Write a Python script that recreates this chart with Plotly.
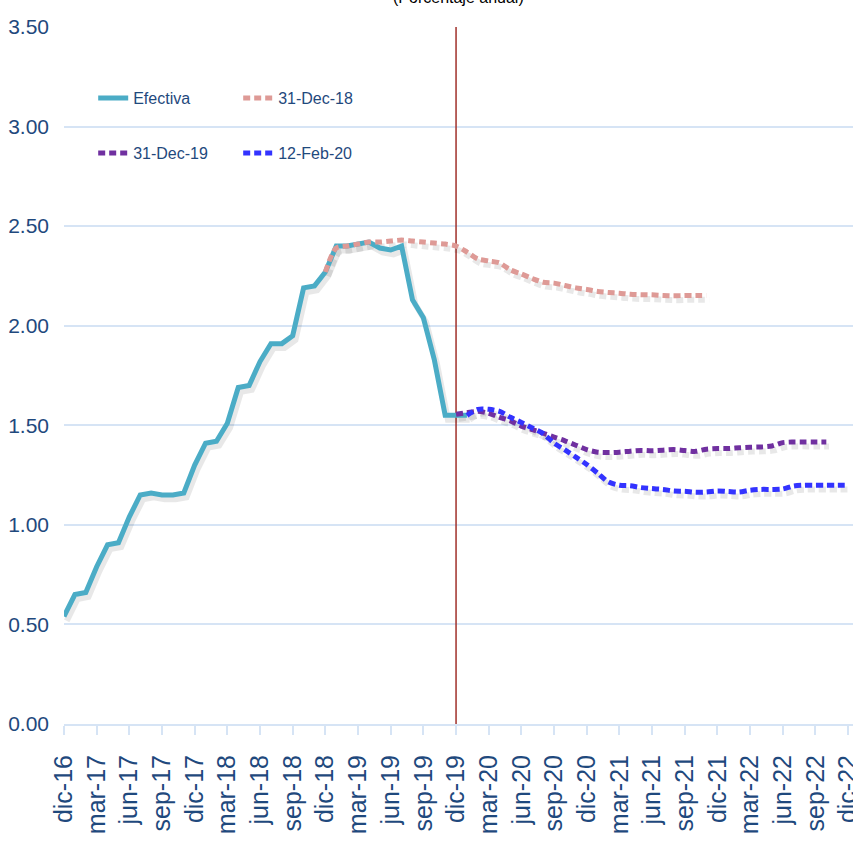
import plotly.graph_objects as go

# ---- data ----
abrev = ["ene", "feb", "mar", "abr", "may", "jun", "jul", "ago", "sep", "oct", "nov", "dic"]
meses = ["dic-16"] + [f"{m}-{a}" for a in range(17, 23) for m in abrev]  # dic-16 ... dic-22

efectiva_inicio = "dic-16"
efectiva = [0.54, 0.65, 0.66, 0.79, 0.90, 0.91, 1.04, 1.15, 1.16, 1.15, 1.15, 1.16,
            1.30, 1.41, 1.42, 1.51, 1.69, 1.70, 1.82, 1.91, 1.91, 1.95, 2.19, 2.20,
            2.27, 2.40, 2.40, 2.41, 2.42, 2.39, 2.38, 2.40, 2.13, 2.04, 1.83, 1.55,
            1.55, 1.55]

dic18_inicio = "dic-18"
dic18 = [2.27, 2.39, 2.40, 2.41, 2.42, 2.42, 2.425, 2.43, 2.425, 2.42, 2.415, 2.41,
         2.40, 2.37, 2.335, 2.325, 2.315, 2.28, 2.26, 2.237, 2.218, 2.214, 2.202, 2.19,
         2.182, 2.172, 2.167, 2.163, 2.158, 2.156, 2.155, 2.152, 2.15, 2.152, 2.152, 2.152]

dic19_inicio = "dic-19"
dic19 = [1.555, 1.563, 1.57, 1.56, 1.54, 1.522, 1.496, 1.478, 1.46, 1.441, 1.422, 1.40,
         1.378, 1.365, 1.363, 1.365, 1.37, 1.374, 1.372, 1.375, 1.378, 1.373, 1.369, 1.38,
         1.383, 1.383, 1.387, 1.39, 1.391, 1.396, 1.413, 1.416, 1.416, 1.416, 1.416]

feb20_inicio = "ene-20"
feb20 = [1.55, 1.58, 1.58, 1.57, 1.54, 1.514, 1.486, 1.458, 1.41, 1.376, 1.34, 1.303,
         1.26, 1.215, 1.199, 1.196, 1.187, 1.182, 1.178, 1.17, 1.169, 1.164, 1.165, 1.17,
         1.167, 1.165, 1.174, 1.178, 1.178, 1.18, 1.195, 1.199, 1.199, 1.199, 1.199, 1.199]

corte = "dic-19"
y_ticks = [0.0, 0.5, 1.0, 1.5, 2.0, 2.5, 3.0, 3.5]
x_tick_labels = meses[::3]

# ---- figure ----
AXIS_COLOR = "#1F497D"
GRID = "#D6E4F5"
FONT = "Liberation Sans, Arial, sans-serif"


def xs(inicio, vals):
    i0 = meses.index(inicio)
    return list(range(i0, i0 + len(vals)))


series = [
    ("Efectiva", efectiva_inicio, efectiva, "#4BACC6", "solid", "linear", "legend"),
    ("31-Dec-18", dic18_inicio, dic18, "#DE9A96", "7px,4px", "spline", "legend"),
    ("31-Dec-19", dic19_inicio, dic19, "#7030A0", "7px,4px", "spline", "legend2"),
    ("12-Feb-20", feb20_inicio, feb20, "#3333FF", "7px,4px", "spline", "legend2"),
]

fig = go.Figure()

# soft drop shadows
for name, ini, vals, col, dash, shape, leg in series:
    fig.add_trace(go.Scatter(
        x=[v + 0.25 for v in xs(ini, vals)], y=[v - 0.022 for v in vals],
        mode="lines", line=dict(color="rgba(0,0,0,0.09)", width=6, dash=dash, shape=shape, smoothing=0.8),
        showlegend=False, hoverinfo="skip"))

for name, ini, vals, col, dash, shape, leg in series:
    fig.add_trace(go.Scatter(
        x=xs(ini, vals), y=vals, name=name, mode="lines",
        line=dict(color=col, width=5, dash=dash, shape=shape, smoothing=0.8),
        legend=leg))

fig.add_shape(type="line", xref="x", yref="y",
              x0=meses.index(corte), x1=meses.index(corte), y0=0, y1=3.5,
              line=dict(color="#A0302A", width=1.5), layer="between")

fig.add_annotation(text="(Porcentaje anual)", xref="paper", yref="paper",
                   x=0.5, y=1.042, xanchor="center", yanchor="middle",
                   showarrow=False, font=dict(size=16, color="black", family=FONT))

fig.update_layout(
    width=853, height=844,
    margin=dict(l=64, r=0, t=27, b=120),
    paper_bgcolor="white", plot_bgcolor="white",
    showlegend=True,
    legend=dict(orientation="h", x=0.037, y=0.898, xanchor="left", yanchor="middle",
                entrywidth=100, entrywidthmode="pixels", bgcolor="rgba(0,0,0,0)",
                font=dict(family=FONT, size=16, color=AXIS_COLOR), traceorder="normal"),
    legend2=dict(orientation="h", x=0.037, y=0.819, xanchor="left", yanchor="middle",
                 entrywidth=100, entrywidthmode="pixels", bgcolor="rgba(0,0,0,0)",
                 font=dict(family=FONT, size=16, color=AXIS_COLOR), traceorder="normal"),
    xaxis=dict(range=[0, 72.45], tickmode="array", automargin=False,
               tickvals=[meses.index(t) for t in x_tick_labels], ticktext=x_tick_labels,
               tickangle=-90, ticks="outside", ticklen=9, tickwidth=1.5, tickcolor=GRID,
               ticklabelstandoff=10, ticklabeloverflow="allow",
               showline=True, linecolor=GRID, linewidth=2, showgrid=False, zeroline=False,
               tickfont=dict(family=FONT, size=25, color=AXIS_COLOR)),
    yaxis=dict(range=[0, 3.5], tickmode="array", tickvals=y_ticks, automargin=False,
               ticktext=[f"{v:.2f}" for v in y_ticks],
               showgrid=True, gridcolor=GRID, gridwidth=2, zeroline=False, showline=False,
               ticks="", ticklabelstandoff=14,
               tickfont=dict(family=FONT, size=21, color=AXIS_COLOR)),
)

fig.write_html("out.html", config={"displayModeBar": False},
               post_script="document.body.style.margin='0px';")
